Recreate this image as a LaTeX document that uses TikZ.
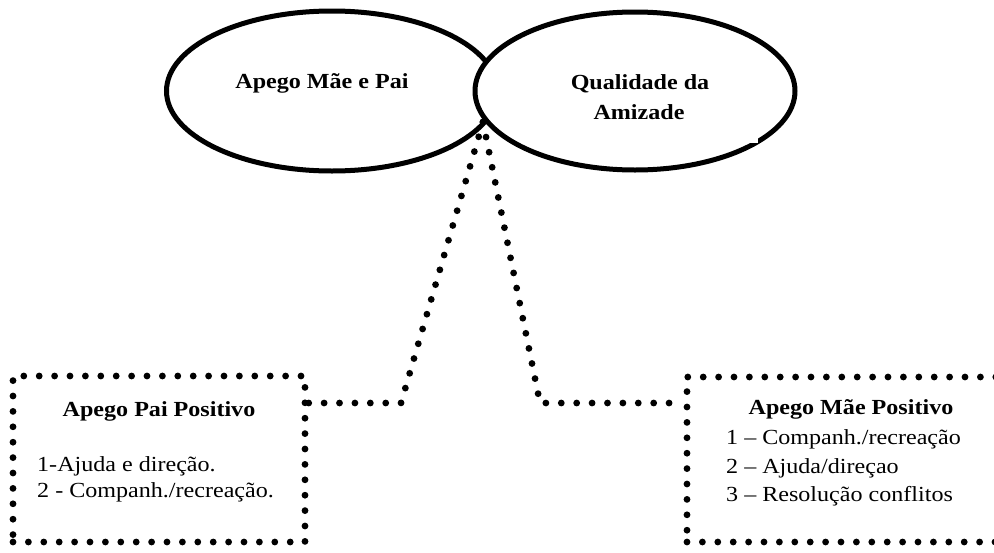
\documentclass[tikz,border=0pt]{standalone}
\usepackage{fontspec}
\setmainfont{Liberation Serif}[FakeStretch=1.12]
\usetikzlibrary{shapes.geometric}

\tikzset{
  oval/.style={ellipse, draw=black, line width=5pt, inner sep=0pt},
  dotline/.style={line width=6.8pt, line cap=round, dash pattern=on 0pt off 15.4pt},
  dotbox/.style={rectangle, dotline, draw=black, inner sep=0pt},
  title/.style={font=\fontsize{21.5}{26}\selectfont\bfseries, inner sep=0pt, anchor=base},
  item/.style={font=\fontsize{21.5}{26}\selectfont, inner sep=0pt, anchor=base west},
}

\begin{document}
\begin{tikzpicture}[x=1pt, y=-1pt]
  \useasboundingbox (0,0) rectangle (994,552);
  \clip (0,0) rectangle (994,552);
  \fill[white] (0,0) rectangle (994,552);

  % the two overlapping ovals; the right one covers the left
  \node[oval, minimum width=331pt, minimum height=160pt] (mp) at (332,91) {};
  \node[oval, fill=white, minimum width=320pt, minimum height=158pt] (qa) at (635,91) {};
  \fill[white] (745,136) rectangle (758,143);

  \node[title] (mpt) at (322,88) {Apego Mãe e Pai};
  \node[title] (qat1) at (640,89) {Qualidade da};
  \node[title] (qat2) at (639,119) {Amizade};

  % dotted boxes
  \node[dotbox, minimum width=292pt, minimum height=166pt] (lbox) at (159,459) {};
  \node[dotbox, minimum width=326pt, minimum height=165pt] (rbox) at (850,459.5) {};

  \node[title] (lt) at (159,416) {Apego Pai Positivo};
  \node[item] (l1) at (37,471) {1-Ajuda e direção.};
  \node[item] (l2) at (37,497) {2 - Companh./recreação.};

  \node[title] (rt) at (851,414) {Apego Mãe Positivo};
  \node[item] (r1) at (726,444) {1 – Companh./recreação};
  \node[item] (r2) at (726,473) {2 – Ajuda/direçao};
  \node[item] (r3) at (726,501) {3 – Resolução conflitos};

  % dotted connectors from the meeting point of the ovals
  \coordinate (j) at (483,122);
  \coordinate (bl) at (401,403);
  \coordinate (br) at (540,403);
  \draw[dotline] (j) -- (bl) -- (bl -| lbox.east);
  \draw[dotline] (j) -- (br) -- (br -| rbox.west);
\end{tikzpicture}
\end{document}
